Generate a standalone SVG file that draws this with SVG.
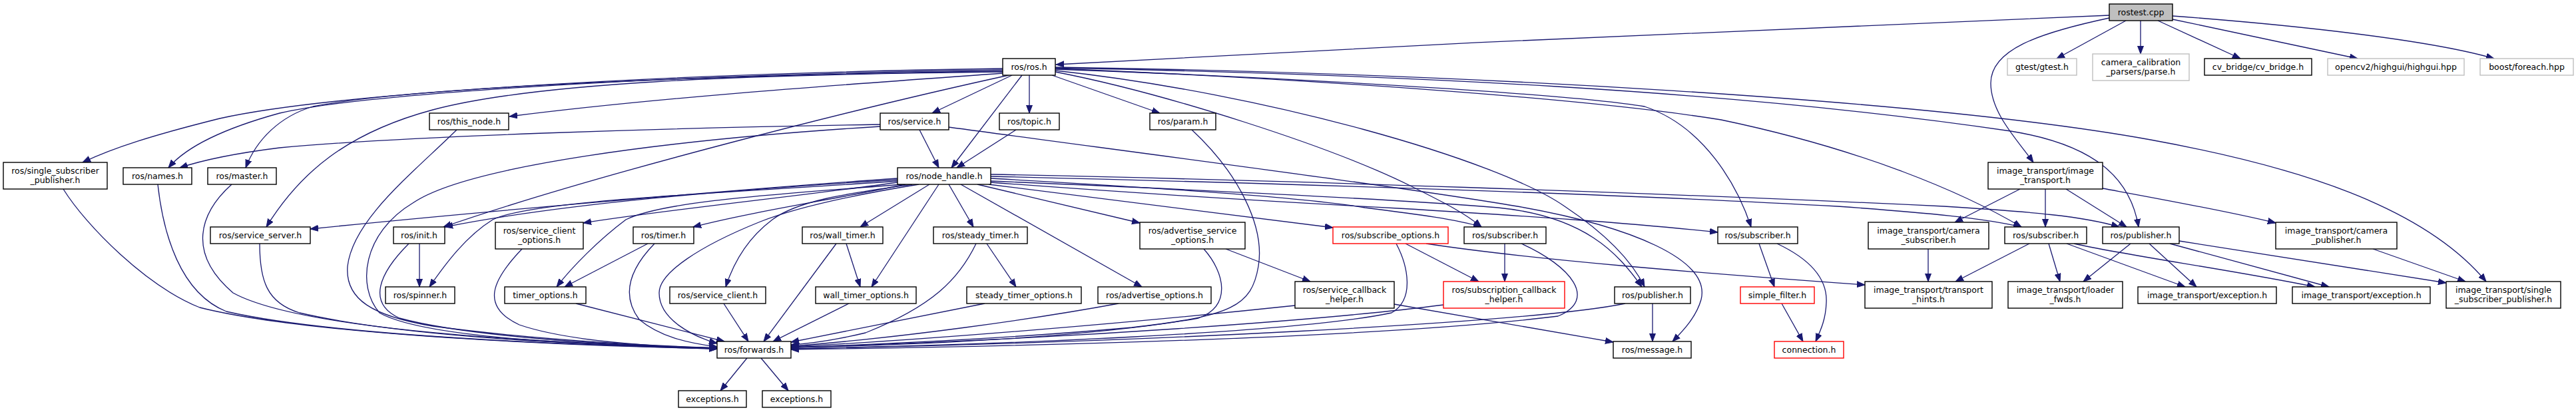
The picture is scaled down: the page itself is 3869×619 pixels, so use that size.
<svg xmlns="http://www.w3.org/2000/svg" width="3869" height="619" viewBox="0 0 3869 619">
<style>
.e{fill:none;stroke:#191970;stroke-width:1.3;marker-end:url(#ah)}
.n rect{fill:#fff;stroke:#000;stroke-width:1.4}
.g rect{stroke:#bfbfbf}
.r rect{stroke:#ff0000}
.root rect{fill:#bfbfbf}
text{font-family:"DejaVu Sans",sans-serif;font-size:12.5px;text-anchor:middle;fill:#000}
</style>
<defs>
<marker id="ah" markerUnits="userSpaceOnUse" markerWidth="13" markerHeight="10" viewBox="0 0 13 10" refX="12" refY="5" orient="auto"><path d="M0,0.5L12,5L0,9.5z" fill="#191970" stroke="#191970" stroke-width="1"/></marker>
</defs>
<rect width="3869" height="619" fill="#fff"/>
<g id="connectors">
<path class="e" d="M3168,23 C2700,40 2100,68 1586,97"/>
<path class="e" d="M3193,31 L3089,88"/>
<path class="e" d="M3215,31 L3215,81"/>
<path class="e" d="M3241,31 L3365,88"/>
<path class="e" d="M3263,29 L3541,88"/>
<path class="e" d="M3263,24 C3450,38 3650,60 3746,88"/>
<path class="e" d="M3168,27 C3060,50 2990,75 2990,125 C2990,170 3030,210 3054,244"/>
<path class="e" d="M1506,103 C1000,110 500,140 330,178 C230,203 170,222 124,244"/>
<path class="e" d="M1506,105 C1000,112 550,140 420,170 C340,192 280,220 253,252"/>
<path class="e" d="M1506,107 C1100,112 620,130 470,160 C420,175 385,210 369,252"/>
<path class="e" d="M1506,110 C1300,125 1000,145 765,175"/>
<path class="e" d="M1506,108 C1100,112 800,125 650,165 C520,200 450,260 400,341"/>
<path class="e" d="M1515,113 C1300,160 900,260 666,341"/>
<path class="e" d="M1520,113 L1400,170"/>
<path class="e" d="M1546,113 L1546,170"/>
<path class="e" d="M1535,113 L1429,252"/>
<path class="e" d="M1580,113 L1742,170"/>
<path class="e" d="M1585,108 C1750,140 2000,220 2120,280 C2170,305 2200,320 2225,341"/>
<path class="e" d="M1585,106 C1900,140 2250,240 2350,310 C2410,350 2450,390 2470,431"/>
<path class="e" d="M1585,104 C1900,115 2350,140 2470,160 C2560,190 2610,280 2630,341"/>
<path class="e" d="M1585,103 C2000,120 2400,150 2585,180 C2800,225 2950,290 3036,341"/>
<path class="e" d="M1585,102 C2100,112 2600,135 3020,197 C3150,218 3200,270 3212,341"/>
<path class="e" d="M1585,101 C2200,110 2900,150 3230,210 C3450,250 3640,310 3734,423"/>
<path class="e" d="M1322,187 C1000,192 600,205 420,222 C340,232 300,242 270,252"/>
<path class="e" d="M1381,195 L1410,252"/>
<path class="e" d="M1322,190 C1000,210 700,250 620,305 C545,350 535,430 570,470 C640,510 900,518 1077,524"/>
<path class="e" d="M1526,195 L1437,252"/>
<path class="e" d="M1790,195 C1860,260 1900,340 1890,400 C1880,460 1850,475 1700,492 C1500,510 1300,518 1188,522"/>
<path class="e" d="M1348,268 C1100,285 700,320 466,344"/>
<path class="e" d="M1348,270 C1100,285 850,305 668,341"/>
<path class="e" d="M1348,272 C1100,290 800,300 740,330 C700,355 670,395 645,431"/>
<path class="e" d="M1348,274 C1200,295 1000,315 876,335"/>
<path class="e" d="M1360,277 C1250,300 1130,318 1041,341"/>
<path class="e" d="M1355,277 C1200,290 1000,300 940,330 C900,360 860,400 836,431"/>
<path class="e" d="M1370,277 C1280,290 1200,300 1160,330 C1120,360 1100,400 1090,431"/>
<path class="e" d="M1380,277 C1300,290 1200,310 1142,333 C1050,370 990,410 990,440 C990,480 1040,505 1077,516"/>
<path class="e" d="M1396,277 L1292,341"/>
<path class="e" d="M1410,277 L1309,431"/>
<path class="e" d="M1425,277 L1462,341"/>
<path class="e" d="M1443,277 L1715,431"/>
<path class="e" d="M1468,277 L1712,335"/>
<path class="e" d="M1485,277 L2002,342"/>
<path class="e" d="M1488,268 C1700,280 1950,295 2050,312 C2130,322 2190,330 2225,341"/>
<path class="e" d="M1488,272 C1800,285 2100,300 2250,312 C2380,325 2430,380 2466,431"/>
<path class="e" d="M1488,274 C1700,290 1950,305 2100,313 C2300,325 2450,335 2580,349"/>
<path class="e" d="M1488,265 C1900,275 2400,290 2760,310 C2900,320 2980,328 3036,341"/>
<path class="e" d="M1488,262 C1900,270 2500,290 2920,310 C3050,318 3130,325 3183,341"/>
<path class="e" d="M95,284 C130,340 220,430 300,462 C450,500 800,518 1077,524"/>
<path class="e" d="M237,277 C245,350 270,440 340,468 C500,505 850,518 1077,524"/>
<path class="e" d="M348,277 C300,320 280,380 350,440 C450,495 800,515 1077,523"/>
<path class="e" d="M390,366 C390,420 400,455 450,470 C600,505 850,518 1077,523"/>
<path class="e" d="M686,195 C620,260 530,330 522,400 C518,450 560,475 650,490 C800,510 950,518 1077,523"/>
<path class="e" d="M614,366 C570,410 550,455 600,478 C700,505 900,518 1077,523"/>
<path class="e" d="M630,366 L630,431"/>
<path class="e" d="M784,374 C740,420 720,460 780,488 C850,512 970,520 1077,524"/>
<path class="e" d="M973,366 L848,431"/>
<path class="e" d="M983,366 C950,400 930,440 960,480 C990,505 1030,515 1077,521"/>
<path class="e" d="M865,456 L1088,513"/>
<path class="e" d="M1087,456 L1124,513"/>
<path class="e" d="M1256,366 L1147,513"/>
<path class="e" d="M1271,366 L1292,431"/>
<path class="e" d="M1275,456 L1161,513"/>
<path class="e" d="M1482,366 L1526,431"/>
<path class="e" d="M1466,366 C1440,420 1400,460 1300,500 C1250,512 1220,516 1188,518"/>
<path class="e" d="M1479,456 L1188,514"/>
<path class="e" d="M1680,456 C1550,480 1350,508 1188,520"/>
<path class="e" d="M1808,374 C1840,410 1850,460 1800,478 C1650,505 1400,518 1188,522"/>
<path class="e" d="M1841,374 L1968,423"/>
<path class="e" d="M2097,366 C2115,400 2125,450 2090,470 C1950,500 1500,518 1188,524"/>
<path class="e" d="M2111,366 L2221,423"/>
<path class="e" d="M2142,366 C2300,390 2550,410 2801,428"/>
<path class="e" d="M2260,366 L2260,423"/>
<path class="e" d="M2285,366 C2360,400 2400,450 2340,475 C2100,505 1600,520 1188,525"/>
<path class="e" d="M1945,459 C1700,485 1400,510 1188,521"/>
<path class="e" d="M2094,457 L2423,514"/>
<path class="e" d="M2168,458 C2000,480 1600,510 1188,522"/>
<path class="e" d="M2482,456 L2482,513"/>
<path class="e" d="M2441,456 C2300,485 1700,515 1188,524"/>
<path class="e" d="M1425,191 C1750,235 2100,280 2279,310 C2450,340 2570,390 2555,450 C2548,475 2530,495 2512,513"/>
<path class="e" d="M2642,366 L2665,431"/>
<path class="e" d="M2669,366 C2720,390 2745,420 2743,455 C2742,480 2735,495 2727,513"/>
<path class="e" d="M2676,456 L2708,513"/>
<path class="e" d="M3034,284 L2936,334"/>
<path class="e" d="M3072,284 L3072,341"/>
<path class="e" d="M3103,284 L3194,341"/>
<path class="e" d="M3158,283 C3250,300 3350,318 3418,335"/>
<path class="e" d="M2896,374 L2896,423"/>
<path class="e" d="M3048,366 L2937,423"/>
<path class="e" d="M3077,366 L3094,423"/>
<path class="e" d="M3104,366 L3282,431"/>
<path class="e" d="M3115,366 C3200,385 3350,405 3477,431"/>
<path class="e" d="M3200,366 L3129,423"/>
<path class="e" d="M3228,366 L3299,431"/>
<path class="e" d="M3259,366 L3498,431"/>
<path class="e" d="M3273,362 L3674,425"/>
<path class="e" d="M3564,374 L3703,423"/>
<path class="e" d="M1122,538 L1082,587"/>
<path class="e" d="M1143,538 L1184,587"/>
</g>
<g id="n0" class="n root"><rect x="3168" y="6" width="95" height="25"/><text x="3215.5" y="23">rostest.cpp</text></g>
<g id="n1" class="n"><rect x="1506" y="88" width="79" height="25"/><text x="1545.5" y="105">ros/ros.h</text></g>
<g id="n2" class="n g"><rect x="3015" y="88" width="104" height="25"/><text x="3067" y="105">gtest/gtest.h</text></g>
<g id="n3" class="n g"><rect x="3143" y="81" width="145" height="40"/><text x="3215.5" y="98">camera_calibration</text><text x="3215.5" y="112">_parsers/parse.h</text></g>
<g id="n4" class="n"><rect x="3311" y="88" width="161" height="25"/><text x="3391.5" y="105">cv_bridge/cv_bridge.h</text></g>
<g id="n5" class="n g"><rect x="3496" y="88" width="205" height="25"/><text x="3598.5" y="105">opencv2/highgui/highgui.hpp</text></g>
<g id="n6" class="n g"><rect x="3725" y="88" width="140" height="25"/><text x="3795" y="105">boost/foreach.hpp</text></g>
<g id="n7" class="n"><rect x="2986" y="244" width="172" height="40"/><text x="3072" y="261">image_transport/image</text><text x="3072" y="275">_transport.h</text></g>
<g id="n8" class="n"><rect x="5" y="244" width="156" height="40"/><text x="83" y="261">ros/single_subscriber</text><text x="83" y="275">_publisher.h</text></g>
<g id="n9" class="n"><rect x="185" y="252" width="103" height="25"/><text x="236.5" y="269">ros/names.h</text></g>
<g id="n10" class="n"><rect x="312" y="252" width="103" height="25"/><text x="363.5" y="269">ros/master.h</text></g>
<g id="n11" class="n"><rect x="645" y="170" width="119" height="25"/><text x="704.5" y="187">ros/this_node.h</text></g>
<g id="n12" class="n"><rect x="1322" y="170" width="103" height="25"/><text x="1373.5" y="187">ros/service.h</text></g>
<g id="n13" class="n"><rect x="1501" y="170" width="90" height="25"/><text x="1546" y="187">ros/topic.h</text></g>
<g id="n14" class="n"><rect x="1727" y="170" width="99" height="25"/><text x="1776.5" y="187">ros/param.h</text></g>
<g id="n15" class="n"><rect x="1348" y="252" width="140" height="25"/><text x="1418" y="269">ros/node_handle.h</text></g>
<g id="n16" class="n"><rect x="316" y="341" width="150" height="25"/><text x="391" y="358">ros/service_server.h</text></g>
<g id="n17" class="n"><rect x="591" y="341" width="77" height="25"/><text x="629.5" y="358">ros/init.h</text></g>
<g id="n18" class="n"><rect x="744" y="334" width="132" height="40"/><text x="810" y="351">ros/service_client</text><text x="810" y="365">_options.h</text></g>
<g id="n19" class="n"><rect x="951" y="341" width="91" height="25"/><text x="996.5" y="358">ros/timer.h</text></g>
<g id="n20" class="n"><rect x="1205" y="341" width="121" height="25"/><text x="1265.5" y="358">ros/wall_timer.h</text></g>
<g id="n21" class="n"><rect x="1402" y="341" width="141" height="25"/><text x="1472.5" y="358">ros/steady_timer.h</text></g>
<g id="n22" class="n"><rect x="1712" y="334" width="158" height="40"/><text x="1791" y="351">ros/advertise_service</text><text x="1791" y="365">_options.h</text></g>
<g id="n23" class="n r"><rect x="2002" y="341" width="173" height="25"/><text x="2088.5" y="358">ros/subscribe_options.h</text></g>
<g id="n24" class="n"><rect x="2199" y="341" width="123" height="25"/><text x="2260.5" y="358">ros/subscriber.h</text></g>
<g id="n25" class="n"><rect x="2580" y="341" width="120" height="25"/><text x="2640" y="358">ros/subscriber.h</text></g>
<g id="n26" class="n"><rect x="2806" y="334" width="181" height="40"/><text x="2896.5" y="351">image_transport/camera</text><text x="2896.5" y="365">_subscriber.h</text></g>
<g id="n27" class="n"><rect x="3011" y="341" width="123" height="25"/><text x="3072.5" y="358">ros/subscriber.h</text></g>
<g id="n28" class="n"><rect x="3158" y="341" width="115" height="25"/><text x="3215.5" y="358">ros/publisher.h</text></g>
<g id="n29" class="n"><rect x="3418" y="334" width="182" height="40"/><text x="3509" y="351">image_transport/camera</text><text x="3509" y="365">_publisher.h</text></g>
<g id="n30" class="n"><rect x="579" y="431" width="104" height="25"/><text x="631" y="448">ros/spinner.h</text></g>
<g id="n31" class="n"><rect x="758" y="431" width="122" height="25"/><text x="819" y="448">timer_options.h</text></g>
<g id="n32" class="n"><rect x="1006" y="431" width="144" height="25"/><text x="1078" y="448">ros/service_client.h</text></g>
<g id="n33" class="n"><rect x="1225" y="431" width="151" height="25"/><text x="1300.5" y="448">wall_timer_options.h</text></g>
<g id="n34" class="n"><rect x="1452" y="431" width="172" height="25"/><text x="1538" y="448">steady_timer_options.h</text></g>
<g id="n35" class="n"><rect x="1649" y="431" width="170" height="25"/><text x="1734" y="448">ros/advertise_options.h</text></g>
<g id="n36" class="n"><rect x="1945" y="423" width="149" height="40"/><text x="2019.5" y="440">ros/service_callback</text><text x="2019.5" y="454">_helper.h</text></g>
<g id="n37" class="n r"><rect x="2168" y="423" width="182" height="40"/><text x="2259" y="440">ros/subscription_callback</text><text x="2259" y="454">_helper.h</text></g>
<g id="n38" class="n"><rect x="2425" y="431" width="114" height="25"/><text x="2482" y="448">ros/publisher.h</text></g>
<g id="n39" class="n r"><rect x="2614" y="431" width="111" height="25"/><text x="2669.5" y="448">simple_filter.h</text></g>
<g id="n40" class="n"><rect x="2801" y="423" width="191" height="40"/><text x="2896.5" y="440">image_transport/transport</text><text x="2896.5" y="454">_hints.h</text></g>
<g id="n41" class="n"><rect x="3016" y="423" width="172" height="40"/><text x="3102" y="440">image_transport/loader</text><text x="3102" y="454">_fwds.h</text></g>
<g id="n42" class="n"><rect x="3211" y="431" width="208" height="25"/><text x="3315" y="448">image_transport/exception.h</text></g>
<g id="n43" class="n"><rect x="3443" y="431" width="207" height="25"/><text x="3546.5" y="448">image_transport/exception.h</text></g>
<g id="n44" class="n"><rect x="3674" y="423" width="172" height="40"/><text x="3760" y="440">image_transport/single</text><text x="3760" y="454">_subscriber_publisher.h</text></g>
<g id="n45" class="n"><rect x="1077" y="513" width="111" height="25"/><text x="1132.5" y="530">ros/forwards.h</text></g>
<g id="n46" class="n"><rect x="2423" y="513" width="117" height="25"/><text x="2481.5" y="530">ros/message.h</text></g>
<g id="n47" class="n r"><rect x="2665" y="513" width="104" height="25"/><text x="2717" y="530">connection.h</text></g>
<g id="n48" class="n"><rect x="1019" y="587" width="102" height="25"/><text x="1070" y="604">exceptions.h</text></g>
<g id="n49" class="n"><rect x="1145" y="587" width="103" height="25"/><text x="1196.5" y="604">exceptions.h</text></g>
</svg>
